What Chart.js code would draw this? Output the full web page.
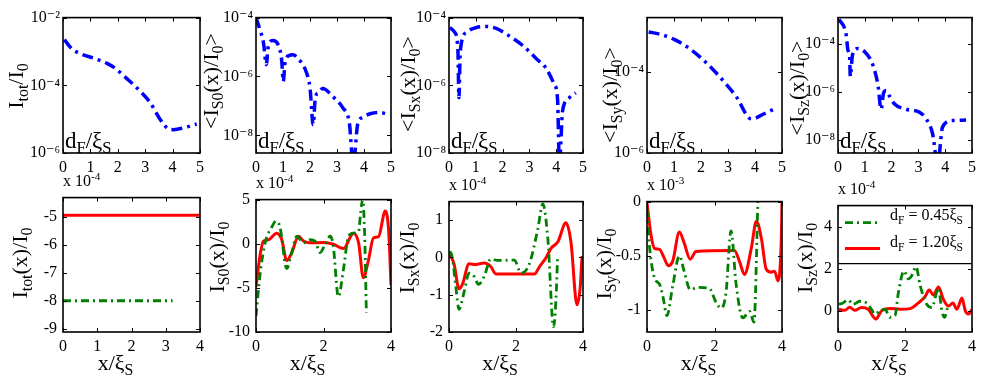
<!DOCTYPE html>
<html>
<head>
<meta charset="utf-8">
<script src="https://cdn.jsdelivr.net/npm/chart.js"></script>
<style>
    body { margin: 0; background: #fff; }
    #fig { position: relative; width: 981px; height: 382px; overflow: hidden; background: #fff; }
    .lbl { position: absolute; white-space: nowrap; font-family: "Liberation Serif", "DejaVu Serif", serif; color: #000; line-height: 1; }
    .lbl sub { font-size: 72%; vertical-align: baseline; position: relative; top: 0.32em; }
    .lbl sup { font-size: 70%; vertical-align: baseline; position: relative; top: -0.55em; }
    .rot { transform: translate(-50%, -50%) rotate(-90deg); }
</style>
</head>
<body>
<div id="fig"></div>
<script>
// ---- top row: averaged currents vs d_F/xi_S (log axes) ----
const topXTicks = [0, 1, 2, 3, 4, 5];

const avgTotX = [0.05, 0.32, 0.62, 1.23, 1.59, 1.90, 2.32, 2.81, 3.18, 3.54, 3.84, 4.03, 4.39, 4.88];
const avgTotY = [2.24e-3, 1.20e-3, 8.7e-4, 5.9e-4, 4.5e-4, 3.2e-4, 1.6e-4, 6.8e-5, 3.1e-5, 1.0e-5, 5.2e-6, 4.9e-6, 5.5e-6, 7.2e-6];

const avgS0X = [0, 0.14, 0.28, 0.38, 0.46, 0.62, 0.83, 0.95, 1.01, 1.08, 1.23, 1.36, 1.61, 1.85, 2.0, 2.12, 2.2, 2.31, 2.47, 2.84, 3.21, 3.46, 3.6, 3.77, 3.95, 4.26, 4.57, 4.81];
const avgS0Y = [1.0e-4, 4.0e-5, 1.35e-5, 2.5e-6, 1.15e-5, 1.66e-5, 1.15e-5, 3.6e-6, 6.8e-7, 3.2e-6, 5.2e-6, 5.5e-6, 3.6e-6, 1.5e-6, 4.1e-7, 2.3e-8, 2.0e-7, 2.75e-7, 3.9e-7, 2.1e-7, 8.7e-8, 2.5e-8, 1.0e-9, 2.5e-8, 4.1e-8, 5.5e-8, 6.0e-8, 5.5e-8];

const avgSxX = [0.03, 0.21, 0.33, 0.37, 0.42, 0.65, 1.02, 1.39, 1.76, 2.13, 2.75, 3.25, 3.62, 3.93, 4.05, 4.12, 4.24, 4.49, 4.73];
const avgSxY = [5.1e-5, 3.7e-5, 1.2e-5, 4.3e-7, 1.0e-5, 3.7e-5, 5.1e-5, 5.5e-5, 4.8e-5, 3.3e-5, 1.5e-5, 6.2e-6, 3.2e-6, 1.05e-6, 3.9e-7, 5.0e-9, 1.8e-7, 4.3e-7, 6.0e-7];

const avgSyX = [0.06, 0.49, 0.99, 1.6, 2.22, 2.84, 3.33, 3.76, 3.89, 4.32, 4.81];
const avgSyY = [9.5e-4, 8.3e-4, 6.3e-4, 3.6e-4, 1.6e-4, 5.8e-5, 2.3e-5, 7.4e-6, 6.9e-6, 9.1e-6, 1.3e-5];

const avgSzX = [0.04, 0.31, 0.37, 0.43, 0.46, 0.54, 0.74, 1.06, 1.30, 1.49, 1.61, 1.70, 1.80, 1.92, 2.11, 2.54, 3.04, 3.29, 3.53, 3.72, 3.90, 4.28, 4.78];
const avgSzY = [1.07e-3, 2.3e-4, 5.5e-5, 3.5e-5, 4.5e-6, 3.5e-5, 6.5e-5, 4.0e-5, 1.35e-5, 2.0e-6, 1.95e-7, 9.3e-7, 1.17e-6, 6.9e-7, 3.2e-7, 1.95e-7, 1.45e-7, 7.8e-8, 1.86e-8, 1.0e-9, 3.5e-8, 6.6e-8, 6.9e-8];

// decade exponents shown on each log axis, and axis limits (exponents)
const topYTicks = [[-6, -4, -2], [-8, -6, -4], [-8, -6, -4], [-6, -4], [-8, -6, -4]];
const topYRange = [[-6, -2], [-8.6, -4], [-8, -4], [-6, -2.67], [-8.53, -2.9]];

// ---- bottom row: profiles vs x/xi_S, d_F = 0.45 (green) and 1.20 (red) ----
const totX045 = [0, 3.2];
const totY045 = [-8, -8];
const totX120 = [0, 4];
const totY120 = [-4.93, -4.93];

const s0X045 = [0, 0.12, 0.27, 0.47, 0.59, 0.71, 0.91, 1.06, 1.21, 1.40, 1.6, 1.75, 1.9, 2.05, 2.2, 2.29, 2.44, 2.59, 2.74, 2.89, 3.04, 3.10, 3.16, 3.22, 3.27];
const s0Y045 = [-8.2, -3.5, 0.1, 1.9, 2.55, 1.9, -2.8, -1.0, 0.85, 0.1, 0.45, 0.3, -1.0, -0.05, 0.85, -0.25, -6.0, -2.95, 0.85, 1.2, 1.4, 3.5, 5.0, 1.0, -7.8];
const s0X120 = [0, 0.12, 0.22, 0.37, 0.61, 0.76, 0.91, 1.06, 1.26, 1.41, 1.6, 2.0, 2.29, 2.59, 2.89, 3.04, 3.18, 3.33, 3.48, 3.63, 3.83, 3.93, 4.0];
const s0Y120 = [-4.9, -1.3, 0.3, 0.45, 1.2, 0.5, -1.9, -1.0, 0.85, 0.3, 0.1, 0.15, -0.05, -0.55, 1.2, 0.1, -3.85, -1.9, 0.65, 0.8, 3.7, 1.5, -4.7];

const sxX045 = [0.03, 0.1, 0.2, 0.3, 0.45, 0.6, 0.75, 0.88, 1.05, 1.25, 1.45, 1.95, 2.15, 2.4, 2.65, 2.8, 2.95, 3.12, 3.19, 3.24];
const sxY045 = [0.17, 0, -0.76, -1.39, -0.93, -0.42, -0.51, -0.72, -0.51, -0.04, -0.08, -0.07, -0.42, -0.17, 0.76, 1.44, 0.51, -1.86, -1.18, 0];
const sxX120 = [0.03, 0.15, 0.3, 0.4, 0.6, 0.8, 1.05, 1.25, 1.40, 2.55, 2.7, 2.9, 3.05, 3.25, 3.49, 3.64, 3.82, 3.92, 3.97];
const sxY120 = [0.08, -0.17, -0.84, -0.72, -0.17, -0.19, -0.15, -0.25, -0.44, -0.44, -0.25, 0, 0.25, 0.42, 0.93, 0.42, -1.27, -0.76, 0.04];

const syX045 = [0, 0.07, 0.22, 0.37, 0.47, 0.59, 0.76, 0.96, 1.1, 1.28, 1.5, 1.85, 2.05, 2.2, 2.34, 2.49, 2.64, 2.84, 3.04, 3.17, 3.29];
const syY045 = [-0.07, -0.40, -0.70, -0.76, -0.87, -1.05, -0.78, -0.50, -0.64, -0.81, -0.79, -0.80, -0.93, -0.98, -0.84, -0.27, -0.76, -1.07, -1.01, -1.11, 0.05];
const syX120 = [0, 0.12, 0.22, 0.37, 0.51, 0.63, 0.76, 0.96, 1.1, 1.28, 1.45, 2.59, 2.74, 2.89, 3.09, 3.24, 3.39, 3.53, 3.68, 3.78, 3.88, 3.98, 4.0];
const syY120 = [-0.01, -0.31, -0.43, -0.44, -0.52, -0.59, -0.55, -0.28, -0.38, -0.53, -0.46, -0.45, -0.55, -0.67, -0.43, -0.18, -0.34, -0.62, -0.65, -0.64, -0.73, -0.34, 0];

const szX045 = [0.03, 0.15, 0.3, 0.45, 0.65, 0.85, 1.0, 1.1, 1.25, 1.4, 1.55, 1.7, 1.8, 1.97, 2.1, 2.2, 2.33, 2.45, 2.65, 2.8, 3.0, 3.1, 3.18, 3.27];
const szY045 = [0.31, 0.38, 0.53, 0.31, 0.46, 0.38, 0.08, -0.15, 0, 0.08, -0.30, -0.23, 0.84, 1.90, 1.52, 1.67, 2.10, 1.22, 0.31, 0.16, 1.07, 0, -0.30, 0.16];
const szX120 = [0.03, 0.2, 0.35, 0.5, 0.7, 0.9, 1.13, 1.3, 1.55, 1.85, 2.15, 2.4, 2.6, 2.72, 2.85, 3.0, 3.15, 3.3, 3.43, 3.55, 3.7, 3.8, 3.9, 4.0];
const szY120 = [0.08, 0.03, 0.18, 0.03, 0.16, 0.08, -0.38, 0, 0.12, 0.08, 0.11, 0.38, 0.68, 0.99, 0.76, 1.14, 0.53, 0.23, 0.38, 0.08, 0.61, 0, -0.15, 0.08];

const botXTicks = [[0, 1, 2, 3, 4], [0, 2, 4], [0, 2, 4], [0, 2, 4], [0, 2, 4]];
const botYTicks = [[-9, -8, -7, -6, -5], [-10, -5, 0, 5], [-2, -1, 0, 1], [-1, -0.5, 0], [0, 2, 4]];
const botYRange = [[-9.12, -4.3], [-10, 5], [-2, 1.5], [-1.2, 0], [-1, 5]];
const botExp = ['-4', '-4', '-4', '-3', '-4'];
const legendLabels = ['d<sub>F</sub> = 0.45ξ<sub>S</sub>', 'd<sub>F</sub> = 1.20ξ<sub>S</sub>'];

// ---- layout ----
const COLS = [[63, 200], [256, 391], [449, 583], [647, 782], [838, 972]];
const TOP_ROW = [15, 153];
const BOT_TOPS = [192, 194, 196, 196, 200];
const BOT_BOTTOM = 332;
const YW = 50, PT = 10, PR = 10, XH = 30, TK = 4;
const FONT = '"Liberation Serif", "DejaVu Serif", serif';

const BLUE = { color: '#0000ff', width: 3.5, dash: [11, 5, 3, 5] };
const GREEN = { color: '#008000', width: 2.8, dash: [8, 4, 2, 4] };
const RED = { color: '#ff0000', width: 3, dash: [] };

Chart.defaults.font.family = FONT;
Chart.defaults.color = '#000';

const fig = document.getElementById('fig');

function label(html, x, y, size, rotated) {
    const d = document.createElement('div');
    d.className = 'lbl' + (rotated ? ' rot' : '');
    d.innerHTML = html;
    d.style.left = x + 'px';
    d.style.top = y + 'px';
    d.style.fontSize = size + 'px';
    fig.appendChild(d);
    return d;
}

function series(xs, ys, st) {
    return {
        data: xs.map((x, i) => ({ x: x, y: ys[i] })),
        borderColor: st.color,
        borderWidth: st.width,
        borderDash: st.dash,
        borderCapStyle: 'butt',
        pointRadius: 0,
        fill: false,
        cubicInterpolationMode: 'monotone'
    };
}

const SUP = { '-': '⁻', '0': '⁰', '1': '¹', '2': '²', '3': '³', '4': '⁴', '5': '⁵', '6': '⁶', '7': '⁷', '8': '⁸', '9': '⁹' };
function pow10Label(v) {
    const e = String(Math.round(Math.log10(v)));
    return '10' + e.split('').map(ch => SUP[ch]).join('');
}

const framePlugin = {
    id: 'frame',
    afterDatasetsDraw(chart) {
        const { ctx, chartArea: a, scales } = chart;
        ctx.save();
        ctx.strokeStyle = '#000';
        ctx.lineWidth = 1;
        ctx.setLineDash([]);
        ctx.beginPath();
        for (const t of scales.x.ticks) {
            const p = Math.round(scales.x.getPixelForValue(t.value)) + 0.5;
            ctx.moveTo(p, a.bottom); ctx.lineTo(p, a.bottom - TK);
            ctx.moveTo(p, a.top); ctx.lineTo(p, a.top + TK);
        }
        for (const t of scales.y.ticks) {
            const p = Math.round(scales.y.getPixelForValue(t.value)) + 0.5;
            ctx.moveTo(a.left, p); ctx.lineTo(a.left + TK, p);
            ctx.moveTo(a.right, p); ctx.lineTo(a.right - TK, p);
        }
        ctx.stroke();
        ctx.lineWidth = 1.6;
        ctx.strokeRect(a.left, a.top, a.right - a.left, a.bottom - a.top);
        ctx.restore();
    }
};

// legend box drawn in the last bottom panel
const legendPlugin = {
    id: 'legendBox',
    afterDatasetsDraw(chart) {
        const { ctx, chartArea: a } = chart;
        const h = 58;
        ctx.save();
        ctx.fillStyle = '#fff';
        ctx.fillRect(a.left, a.top, a.right - a.left, h);
        ctx.strokeStyle = '#000';
        ctx.lineWidth = 1.2;
        ctx.beginPath();
        ctx.moveTo(a.left, a.top + h); ctx.lineTo(a.right, a.top + h);
        ctx.stroke();
        [[GREEN, 17], [RED, 43]].forEach(([st, dy]) => {
            ctx.strokeStyle = st.color;
            ctx.lineWidth = st.width;
            ctx.setLineDash(st.dash);
            ctx.beginPath();
            ctx.moveTo(a.left + 7, a.top + dy); ctx.lineTo(a.left + 42, a.top + dy);
            ctx.stroke();
        });
        ctx.restore();
    }
};

const tickFont = { family: FONT, size: 16 };

function panel(col, y0, y1, datasets, xTicks, xMax, yOpt, plugins) {
    const [x0, x1] = COLS[col];
    const w = x1 - x0 + YW + PR, h = y1 - y0 + PT + XH;
    const c = document.createElement('canvas');
    c.width = w; c.height = h;
    c.style.cssText = `position:absolute;left:${x0 - YW}px;top:${y0 - PT}px;width:${w}px;height:${h}px`;
    fig.appendChild(c);
    return new Chart(c, {
        type: 'line',
        data: { datasets: datasets },
        plugins: plugins,
        options: {
            responsive: false,
            animation: false,
            devicePixelRatio: 1,
            layout: { padding: { top: PT, right: PR, left: 0, bottom: 0 } },
            plugins: { legend: { display: false }, tooltip: { enabled: false } },
            scales: {
                x: {
                    type: 'linear', min: 0, max: xMax,
                    grid: { display: false, drawTicks: false },
                    border: { display: false },
                    ticks: { font: tickFont, color: '#000', padding: 5, autoSkip: false, maxRotation: 0, callback: v => String(v) },
                    afterBuildTicks: s => { s.ticks = xTicks.map(v => ({ value: v })); },
                    afterFit: s => { s.height = XH; }
                },
                y: Object.assign({
                    grid: { display: false, drawTicks: false },
                    border: { display: false },
                    afterFit: s => { s.width = YW; }
                }, yOpt)
            }
        }
    });
}

// top row
const topData = [
    [avgTotX, avgTotY], [avgS0X, avgS0Y], [avgSxX, avgSxY], [avgSyX, avgSyY], [avgSzX, avgSzY]
];
topData.forEach(([xs, ys], i) => {
    panel(i, TOP_ROW[0], TOP_ROW[1], [series(xs, ys, BLUE)], topXTicks, 5, {
        type: 'logarithmic',
        min: Math.pow(10, topYRange[i][0]),
        max: Math.pow(10, topYRange[i][1]),
        ticks: { font: tickFont, color: '#000', padding: 3, autoSkip: false, callback: v => pow10Label(v) },
        afterBuildTicks: s => { s.ticks = topYTicks[i].map(e => ({ value: Math.pow(10, e) })); }
    }, [framePlugin]);
});

// bottom row
const botData = [
    [totX045, totY045, totX120, totY120],
    [s0X045, s0Y045, s0X120, s0Y120],
    [sxX045, sxY045, sxX120, sxY120],
    [syX045, syY045, syX120, syY120],
    [szX045, szY045, szX120, szY120]
];
botData.forEach(([gx, gy, rx, ry], i) => {
    panel(i, BOT_TOPS[i], BOT_BOTTOM, [series(gx, gy, GREEN), series(rx, ry, RED)], botXTicks[i], 4, {
        type: 'linear',
        min: botYRange[i][0],
        max: botYRange[i][1],
        ticks: { font: tickFont, color: '#000', padding: 6, autoSkip: false, callback: v => String(v) },
        afterBuildTicks: s => { s.ticks = botYTicks[i].map(v => ({ value: v })); }
    }, i === 4 ? [legendPlugin, framePlugin] : [framePlugin]);
});

// texts
const topYLabels = [
    'I<sub>tot</sub>/I<sub>0</sub>',
    '&lt;I<sub>S0</sub>(x)/I<sub>0</sub>&gt;',
    '&lt;I<sub>Sx</sub>(x)/I<sub>0</sub>&gt;',
    '&lt;I<sub>Sy</sub>(x)/I<sub>0</sub>&gt;',
    '&lt;I<sub>Sz</sub>(x)/I<sub>0</sub>&gt;'
];
const botYLabels = [
    'I<sub>tot</sub>(x)/I<sub>0</sub>',
    'I<sub>S0</sub>(x)/I<sub>0</sub>',
    'I<sub>Sx</sub>(x)/I<sub>0</sub>',
    'I<sub>Sy</sub>(x)/I<sub>0</sub>',
    'I<sub>Sz</sub>(x)/I<sub>0</sub>'
];
const topYLabelPos = [[16, 86], [211, 81], [408, 84], [610, 95], [797, 88]];
const botYLabelPos = [[20, 263], [217, 257], [407, 258], [604, 264], [805, 258]];

topYLabels.forEach((t, i) => label(t, topYLabelPos[i][0], topYLabelPos[i][1], 22, true));
botYLabels.forEach((t, i) => label(t, botYLabelPos[i][0], botYLabelPos[i][1], 22, true));

COLS.forEach(([x0, x1], i) => {
    label('d<sub>F</sub>/ξ<sub>S</sub>', x0 + 2, 129, 23, false);
    const xl = label('x/ξ<sub>S</sub>', (x0 + x1) / 2 - 16, 352, 22, false);
    xl.style.transform = 'translateX(-50%)';
    label('x 10<sup>' + botExp[i] + '</sup>', x0, BOT_TOPS[i] - 19, 16, false);
});

legendLabels.forEach((t, i) => label(t, 890, 207 + i * 27, 16, false));
</script>
</body>
</html>
